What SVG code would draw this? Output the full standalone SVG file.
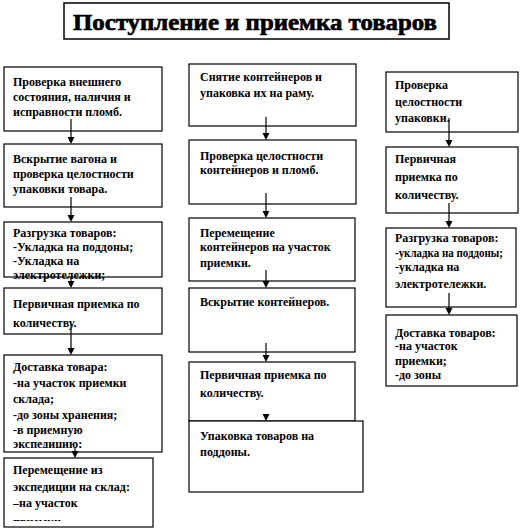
<svg xmlns="http://www.w3.org/2000/svg" width="521" height="531" viewBox="0 0 521 531">
<style>
.b{fill:#fff;stroke:#000;stroke-width:1.2}
.t{font-family:"Liberation Serif","Times New Roman",serif;font-size:12px;font-weight:bold;fill:#000}
.c line{stroke:#000;stroke-width:1.2}
.c path{fill:#000}
</style>
<defs>
<clipPath id="c5"><rect x="4" y="355" width="158" height="93"/></clipPath>
<clipPath id="c6"><rect x="4" y="458" width="150" height="63"/></clipPath>
</defs>
<rect width="521" height="531" fill="#fff"/>
<g id="title">
<rect x="64" y="3" width="385" height="36" fill="#fff" stroke="#000" stroke-width="1.5"/>
<text x="255" y="30" text-anchor="middle" font-family="'Liberation Serif','Times New Roman',serif" font-size="24" font-weight="bold" stroke="#000" stroke-width="0.7" textLength="364" lengthAdjust="spacingAndGlyphs">Поступление и приемка товаров</text>
</g>
<g id="n1"><rect class="b" x="4" y="67" width="158" height="64"/>
<text class="t" x="13" y="86">Проверка внешнего</text><text class="t" x="13" y="101">состояния, наличия и</text><text class="t" x="13" y="116">исправности пломб.</text></g>
<g id="n2"><rect class="b" x="4" y="144" width="158" height="63"/>
<text class="t" x="13" y="163">Вскрытие вагона и</text><text class="t" x="13" y="178">проверка целостности</text><text class="t" x="13" y="193">упаковки товара.</text></g>
<g id="n3"><rect class="b" x="4" y="222" width="158" height="55"/>
<text class="t" x="13" y="237">Разгрузка товаров:</text><text class="t" x="13" y="251">-Укладка на поддоны;</text><text class="t" x="13" y="265">-Укладка на</text><text class="t" x="13" y="279">электротележки;</text></g>
<g id="n4"><rect class="b" x="4" y="288" width="158" height="46"/>
<text class="t" x="13" y="308">Первичная приемка по</text><text class="t" x="13" y="327">количеству.</text></g>
<g id="n5"><rect class="b" x="4" y="355" width="158" height="97"/>
<g clip-path="url(#c5)"><text class="t" x="13" y="371">Доставка товара:</text><text class="t" x="13" y="387">-на участок приемки</text><text class="t" x="13" y="403">склада;</text><text class="t" x="13" y="419">-до зоны хранения;</text><text class="t" x="13" y="434">-в приемную</text><text class="t" x="13" y="448">экспедицию;</text></g></g>
<g id="n6"><rect class="b" x="4" y="458" width="149" height="69"/>
<g clip-path="url(#c6)"><text class="t" x="13" y="474">Перемещение из</text><text class="t" x="13" y="491">экспедиции на склад:</text><text class="t" x="13" y="507" font-size="13">–на участок</text><text class="t" x="13" y="526">приемки.</text></g></g>
<g id="n7"><rect class="b" x="189" y="64" width="167" height="62"/>
<text class="t" x="200" y="81">Снятие контейнеров и</text><text class="t" x="200" y="97">упаковка их на раму.</text></g>
<g id="n8"><rect class="b" x="189" y="140" width="167" height="64"/>
<text class="t" x="200" y="160">Проверка целостности</text><text class="t" x="200" y="174">контейнеров и пломб.</text></g>
<g id="n9"><rect class="b" x="189" y="218" width="166" height="63"/>
<text class="t" x="200" y="237">Перемещение</text><text class="t" x="200" y="251">контейнеров на участок</text><text class="t" x="200" y="267">приемки.</text></g>
<g id="n10"><rect class="b" x="189" y="288" width="166" height="64"/>
<text class="t" x="200" y="306">Вскрытие контейнеров.</text></g>
<g id="n11"><rect class="b" x="189" y="362" width="166" height="59"/>
<text class="t" x="200" y="379">Первичная приемка по</text><text class="t" x="200" y="397">количеству.</text></g>
<g id="n12"><rect class="b" x="189" y="421" width="174" height="71"/>
<text class="t" x="200" y="440">Упаковка товаров на</text><text class="t" x="200" y="456">поддоны.</text></g>
<g id="n13"><rect class="b" x="386" y="72" width="132" height="60"/>
<text class="t" x="395" y="89">Проверка</text><text class="t" x="395" y="106">целостности</text><text class="t" x="395" y="122">упаковки.</text></g>
<g id="n14"><rect class="b" x="386" y="147" width="132" height="66"/>
<text class="t" x="395" y="163">Первичная</text><text class="t" x="395" y="181">приемка по</text><text class="t" x="395" y="199">количеству.</text></g>
<g id="n15"><rect class="b" x="386" y="228" width="130" height="79"/>
<text class="t" x="395" y="242">Разгрузка товаров:</text><text class="t" x="395" y="257" textLength="108" lengthAdjust="spacingAndGlyphs">-укладка на поддоны;</text><text class="t" x="395" y="271">-укладка на</text><text class="t" x="395" y="288">электротележки.</text></g>
<g id="n16"><rect class="b" x="386" y="315" width="131" height="71"/>
<text class="t" x="395" y="337">Доставка товаров:</text><text class="t" x="395" y="350">-на участок</text><text class="t" x="395" y="365">приемки;</text><text class="t" x="395" y="379">-до зоны</text></g>
<g id="connectors" class="c">
<line x1="71" y1="119" x2="71" y2="139"/><path d="M67.5,137 L74.5,137 L71,144 Z"/>
<line x1="71" y1="197" x2="71" y2="217"/><path d="M67.5,215 L74.5,215 L71,222 Z"/>
<line x1="71" y1="277" x2="71" y2="283"/><path d="M67.5,281 L74.5,281 L71,288 Z"/>
<line x1="71" y1="325" x2="71" y2="350"/><path d="M67.5,348 L74.5,348 L71,355 Z"/>
<line x1="75" y1="447" x2="75" y2="453"/><path d="M71.5,451 L78.5,451 L75,458 Z"/>
<line x1="266" y1="117" x2="266" y2="135"/><path d="M262.5,133 L269.5,133 L266,140 Z"/>
<line x1="266" y1="193" x2="266" y2="213"/><path d="M262.5,211 L269.5,211 L266,218 Z"/>
<line x1="266" y1="270" x2="266" y2="283"/><path d="M262.5,281 L269.5,281 L266,288 Z"/>
<line x1="266" y1="343" x2="266" y2="357"/><path d="M262.5,355 L269.5,355 L266,362 Z"/>
<path d="M262.5,414 L269.5,414 L266,421 Z"/>
<line x1="449" y1="118" x2="449" y2="142"/><path d="M445.5,140 L452.5,140 L449,147 Z"/>
<line x1="449" y1="203" x2="449" y2="223"/><path d="M445.5,221 L452.5,221 L449,228 Z"/>
<line x1="449" y1="293" x2="449" y2="310"/><path d="M445.5,308 L452.5,308 L449,315 Z"/>
</g>
</svg>
